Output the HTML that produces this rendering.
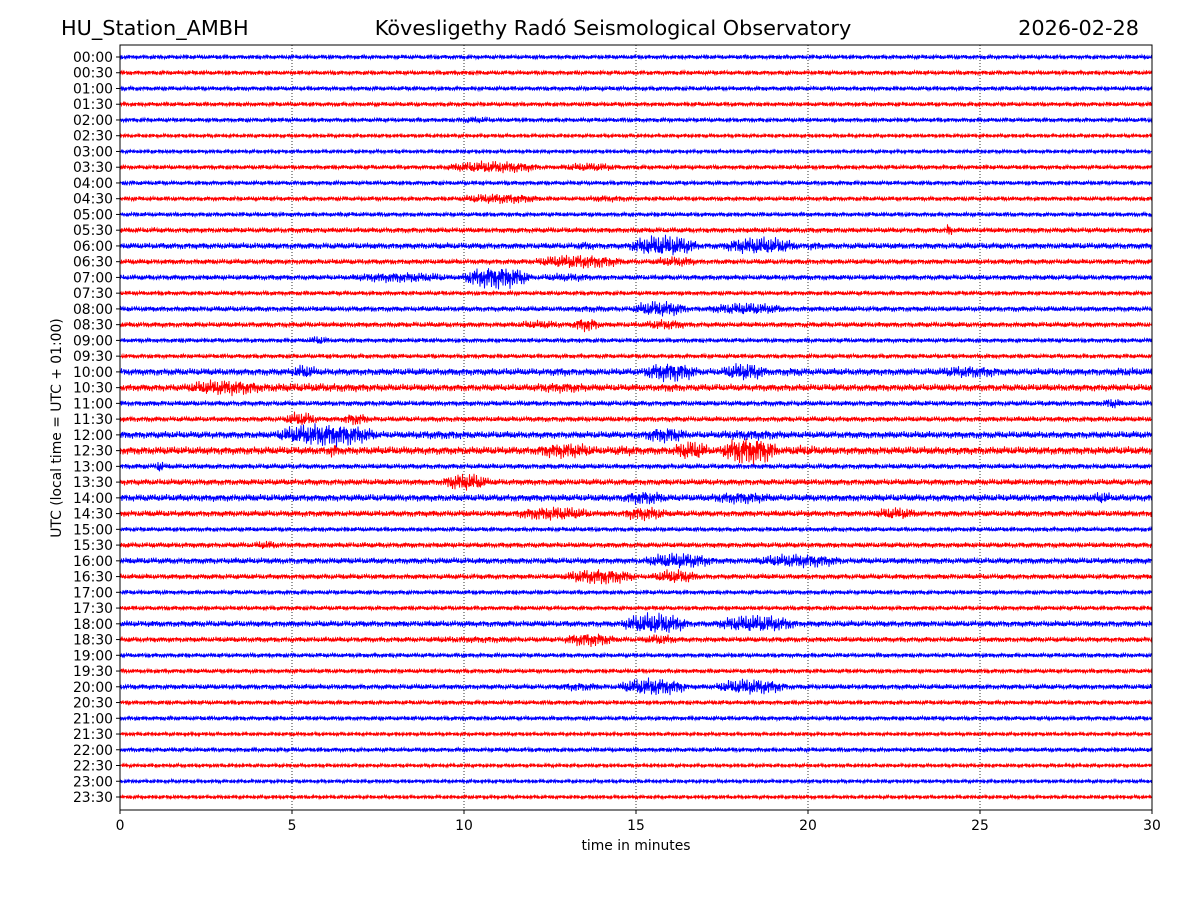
<!DOCTYPE html>
<html><head><meta charset="utf-8">
<style>
body{margin:0;background:#fff;}
svg{display:block;font-family:"DejaVu Sans","Liberation Sans",sans-serif;}
</style></head>
<body>
<svg id="chart" width="1200" height="900" viewBox="0 0 1200 900">
  <rect width="1200" height="900" fill="#fff"/>
  <text x="61" y="35" font-size="20.8">HU_Station_AMBH</text>
  <text x="613" y="35" font-size="20.8" text-anchor="middle">Kövesligethy Radó Seismological Observatory</text>
  <text x="1139" y="35" font-size="20.8" text-anchor="end">2026-02-28</text>
  <g id="grid"></g>
  <g id="traces"></g>
  <rect x="120" y="45" width="1032" height="765" fill="none" stroke="#000" stroke-width="1"/>
  <g id="xaxis"></g>
  <g id="yaxis"></g>
  <text x="636" y="850" font-size="13.9" text-anchor="middle">time in minutes</text>
  <text transform="translate(61,428) rotate(-90)" font-size="13.9" text-anchor="middle">UTC (local time = UTC + 01:00)</text>
</svg>
<script>
const xTicks = [0,5,10,15,20,25,30];
const rowLabels = [];
for (let h=0;h<24;h++){const hh=String(h).padStart(2,'0');rowLabels.push(hh+':00');rowLabels.push(hh+':30');}
const baseAmp = [2.5,2.5,2.5,2.5,2.5,2,2,2.5,2.5,2.5,2.5,3,3.5,3,3,2.5,3,3,2.5,2.5,4,4,3,3,4,4.5,3,3.5,4,3.5,2.5,3,3.5,3,2.5,2.5,3.5,3,2.5,2.5,3,2.5,2.5,2,2.5,2,2,2];
// [row, startMin, endMin, amplitudePx]
const events = [
[4,9.7,11,4],[7,9.3,12.4,7],[7,12.6,14.7,5],[9,9.7,12.4,6],[9,13.2,15.1,4],[11,24.0,24.2,8],
[12,13.1,14,5],[12,14.7,16.9,12],[12,17.4,19.8,10],[12,19.8,20.6,5],
[13,11.9,14.8,8],[13,15.4,16.9,6],[14,6.4,9.9,6],[14,9.9,12,13],[14,12,14,5],
[16,12.8,14.5,4],[16,14.8,16.6,9],[16,16.9,19.5,7],[17,11.3,13.1,5],[17,13.1,14,8],[17,15.1,16.6,6],
[18,5.4,6.1,5],[20,4.9,5.8,8],[20,12.2,13.4,5],[20,15.1,16.9,11],[20,17.4,18.9,10],[20,18.9,20.3,5],[20,23.5,25.9,7],[20,28.5,30,5],
[21,0,10.2,5],[21,1.7,4.4,9],[21,11.6,14,6],[21,15.4,16.6,5],[22,28.5,29.2,6],[23,4.7,5.8,8],[23,6.4,7.3,7],
[24,4.4,7.6,13],[24,7.6,11,5],[24,15.1,16.6,9],[24,16.9,19.8,6],
[25,6,6.4,8],[25,11.9,14,9],[25,14,15.4,6],[25,16,17.2,11],[25,17.4,19.2,16],[25,19.2,20.6,6],
[26,1,1.3,7],[27,9.3,10.8,10],[28,14.5,16,8],[28,16.9,19.2,7],[28,28.2,28.9,7],
[29,11.3,13.9,8],[29,14.5,16,8],[29,21.8,23.3,7],[31,3.8,4.7,5],[32,15.1,17.4,9],[32,18.3,21.2,8],
[33,12.8,15.1,9],[33,15.4,16.9,8],[36,14.5,16.6,12],[36,17.2,19.8,10],
[37,8.1,12.5,4],[37,12.8,14.5,8],[37,15.1,16.3,6],[40,12.5,14.2,5],[40,14.4,16.6,10],[40,17.2,19.5,9]
];
const NS="http://www.w3.org/2000/svg";
const X0=120,X1=1152,Y0=57,DY=(797-57)/47;
const xs=m=>X0+(m/30)*(X1-X0);
const ys=r=>Y0+r*DY;
const grid=document.getElementById('grid'),xa=document.getElementById('xaxis'),ya=document.getElementById('yaxis'),tr=document.getElementById('traces');
xTicks.forEach(t=>{
  const x=xs(t);
  if(t>0&&t<30){const l=document.createElementNS(NS,'line');
    
    
    l.setAttribute('x1',x);l.setAttribute('x2',x);l.setAttribute('y1',45);l.setAttribute('y2',810);
    l.setAttribute('stroke','#000');l.setAttribute('stroke-width','0.8');l.setAttribute('stroke-dasharray','1,2');grid.appendChild(l);}
  const tk=document.createElementNS(NS,'line');
  
  
  tk.setAttribute('x1',x);tk.setAttribute('x2',x);tk.setAttribute('y1',810);tk.setAttribute('y2',814);tk.setAttribute('stroke','#000');xa.appendChild(tk);
  const tx=document.createElementNS(NS,'text');
  
  
  tx.setAttribute('x',x);tx.setAttribute('y',830);tx.setAttribute('font-size','13.9');tx.setAttribute('text-anchor','middle');tx.textContent=t;xa.appendChild(tx);
});
rowLabels.forEach((lab,r)=>{
  const y=ys(r);
  const tk=document.createElementNS(NS,'line');
  
  
  tk.setAttribute('x1',116);tk.setAttribute('x2',120);tk.setAttribute('y1',y);tk.setAttribute('y2',y);tk.setAttribute('stroke','#000');ya.appendChild(tk);
  const tx=document.createElementNS(NS,'text');
  
  
  tx.setAttribute('x',113);tx.setAttribute('y',y+5);tx.setAttribute('font-size','13.9');tx.setAttribute('text-anchor','end');tx.textContent=lab;ya.appendChild(tx);
  const evs=events.filter(e=>e[0]===r);
  let d='';
  for(let i=0;i<=(X1-X0)*2;i++){
    const px=i/2;
    const m=px/(X1-X0)*30;
    let a=baseAmp[r];
    evs.forEach(e=>{if(m>=e[1]&&m<=e[2]){const t=(m-e[1])/(e[2]-e[1]);const v=e[3]*Math.sqrt(Math.sin(Math.PI*t));if(v>a)a=v;}});
    const w=Math.sin(i*2.71+r*1.7)*0.55+Math.sin(i*1.37+r)*0.3+Math.sin(i*0.23+r*3)*0.15;
    d+=(i===0?'M':'L')+(X0+px).toFixed(1)+','+(y+a*w).toFixed(2);
  }
  const p=document.createElementNS(NS,'path');
  
  
  p.setAttribute('d',d);p.setAttribute('fill','none');p.setAttribute('stroke',r%2===0?'#0000ff':'#ff0000');p.setAttribute('stroke-width','1');
  tr.appendChild(p);
});
</script>
</body></html>
